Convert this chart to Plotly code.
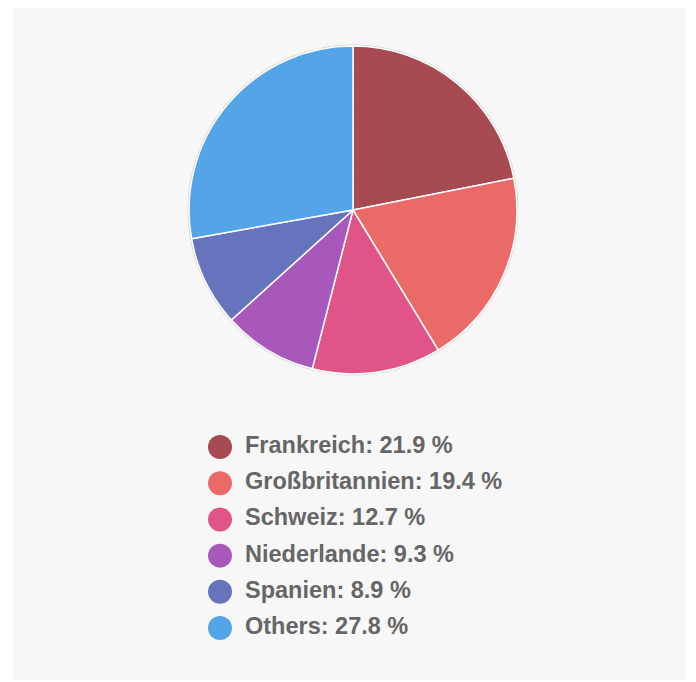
import plotly.graph_objects as go

countries = ["Frankreich", "Großbritannien", "Schweiz", "Niederlande", "Spanien", "Others"]
shares = [21.9, 19.4, 12.7, 9.3, 8.9, 27.8]
colors = ["#a84a52", "#e96a67", "#e05488", "#a858ba", "#6674be", "#54a4e8"]

legend_labels = [f"{c}: {v} %" for c, v in zip(countries, shares)]
rows = list(range(len(countries)))

fig = go.Figure()

pie_domain = dict(x=[0.2615, 0.7489], y=[0.4554, 0.9434])

# thin grey rim behind the pie
fig.add_trace(
    go.Pie(
        values=[1],
        domain=pie_domain,
        marker=dict(colors=["#f7f7f7"], line=dict(color="#d4d4d4", width=3)),
        textinfo="none",
        hoverinfo="skip",
        showlegend=False,
        sort=False,
    )
)

fig.add_trace(
    go.Pie(
        labels=countries,
        values=shares,
        domain=pie_domain,
        marker=dict(colors=colors, line=dict(color="white", width=1.5)),
        textinfo="none",
        sort=False,
        direction="clockwise",
        rotation=0,
        showlegend=False,
        hovertemplate="%{label}: %{value} %<extra></extra>",
    )
)

# custom legend: circles
fig.add_trace(
    go.Scatter(
        x=[0] * len(rows),
        y=rows,
        mode="markers",
        marker=dict(size=24, color=colors),
        hoverinfo="skip",
        showlegend=False,
        cliponaxis=False,
    )
)
# and bold labels next to them
fig.add_trace(
    go.Scatter(
        x=[25] * len(rows),
        y=rows,
        mode="text",
        text=legend_labels,
        textposition="middle right",
        textfont=dict(family="Liberation Sans, Arial, sans-serif", size=23.5, color="#666666", weight="bold"),
        hoverinfo="skip",
        showlegend=False,
        cliponaxis=False,
    )
)

# the page adds an 8px body margin, so the figure is 8px smaller than the window
fig.update_layout(
    width=688,
    height=674,
    paper_bgcolor="white",
    plot_bgcolor="rgba(0,0,0,0)",
    margin=dict(l=5, r=10, t=0, b=2),
    xaxis=dict(range=[-207, 466], visible=False, fixedrange=True, domain=[0, 1]),
    yaxis=dict(range=[5.5, -0.5], visible=False, fixedrange=True, domain=[0.0504, 0.3736]),
    shapes=[
        dict(
            type="rect",
            xref="paper",
            yref="paper",
            x0=0,
            x1=1,
            y0=0,
            y1=1,
            fillcolor="#f7f7f7",
            line=dict(width=0),
            layer="below",
        )
    ],
)

fig.write_html("out.html")
